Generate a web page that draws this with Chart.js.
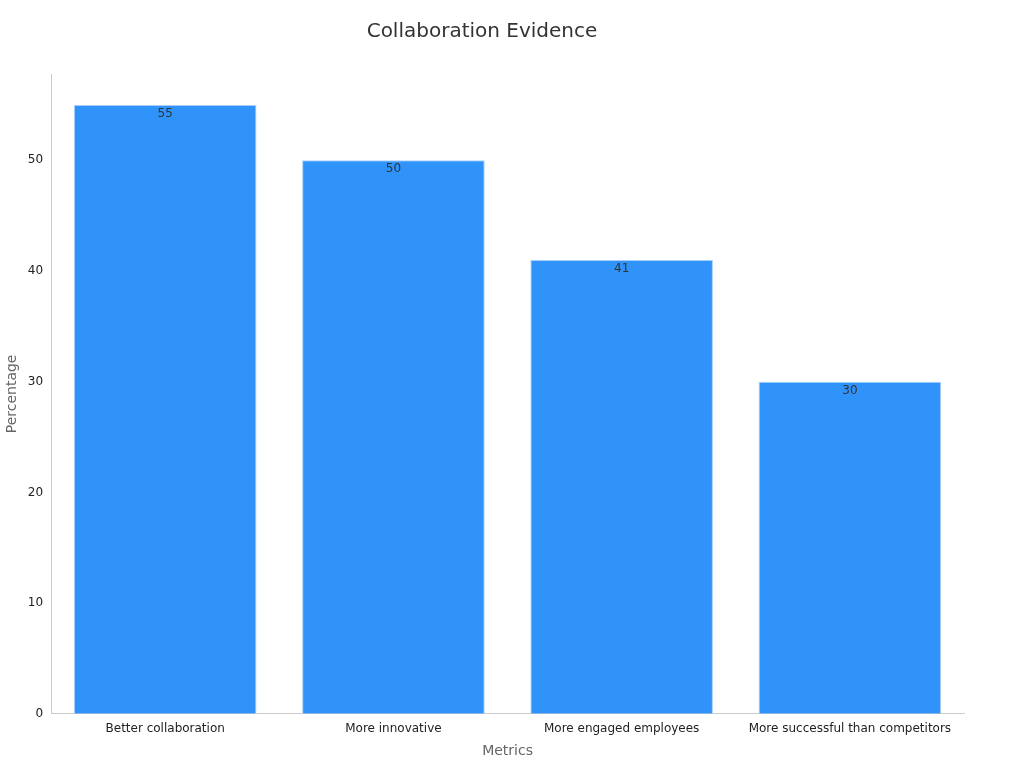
<!DOCTYPE html>
<html><head><meta charset="utf-8">
<script src="https://cdn.jsdelivr.net/npm/chart.js@4"></script>
<style>html,body{margin:0;background:#fff}#w{width:1024px;height:768px}</style>
</head><body><div id="w"><canvas id="c"></canvas></div>
<script>
const categories = ["Better collaboration","More innovative","More engaged employees","More successful than competitors"];
const values = [55, 50, 41, 30];
const yTicks = [0, 10, 20, 30, 40, 50];

const labelPlugin = {
  id: 'lbl',
  afterDatasetsDraw(chart) {
    const ctx = chart.ctx;
    const meta = chart.getDatasetMeta(0);
    ctx.save();
    ctx.font = '12px "DejaVu Sans"';
    ctx.fillStyle = '#333';
    ctx.textAlign = 'center';
    ctx.textBaseline = 'top';
    meta.data.forEach((b, i) => ctx.fillText(String(values[i]), b.x, b.y + 3));
    ctx.restore();
  }
};

new Chart(document.getElementById('c'), {
  type: 'bar',
  data: { labels: categories, datasets: [{ data: values, backgroundColor: '#2f93f9', borderColor: '#a8cffb', borderWidth: 1, barPercentage: 0.8, categoryPercentage: 1 }] },
  options: {
    responsive: true, maintainAspectRatio: false, animation: false,
    layout: { padding: { left: 0, right: 60, top: 10, bottom: 4 } },
    plugins: {
      legend: { display: false },
      tooltip: { enabled: false },
      title: { display: true, text: 'Collaboration Evidence', color: '#333', font: { family: 'DejaVu Sans', size: 20, weight: 'normal' }, padding: { top: 10, bottom: 30 } }
    },
    scales: {
      x: {
        grid: { display: false, drawTicks: true, tickLength: 5 },
        border: { color: '#ccc' },
        ticks: { color: '#222', font: { family: 'DejaVu Sans', size: 12 }, maxRotation: 0 },
        title: { display: true, text: 'Metrics', color: '#666', font: { family: 'DejaVu Sans', size: 14 } }
      },
      y: {
        min: 0, max: 57.8,
        afterBuildTicks(ax) { ax.ticks = yTicks.map(v => ({ value: v })); },
        grid: { display: false, drawTicks: true, tickLength: 5 },
        border: { color: '#ccc' },
        ticks: { color: '#222', font: { family: 'DejaVu Sans', size: 12 } },
        title: { display: true, text: 'Percentage', color: '#666', font: { family: 'DejaVu Sans', size: 14 } }
      }
    }
  },
  plugins: [labelPlugin]
});
</script></body></html>
